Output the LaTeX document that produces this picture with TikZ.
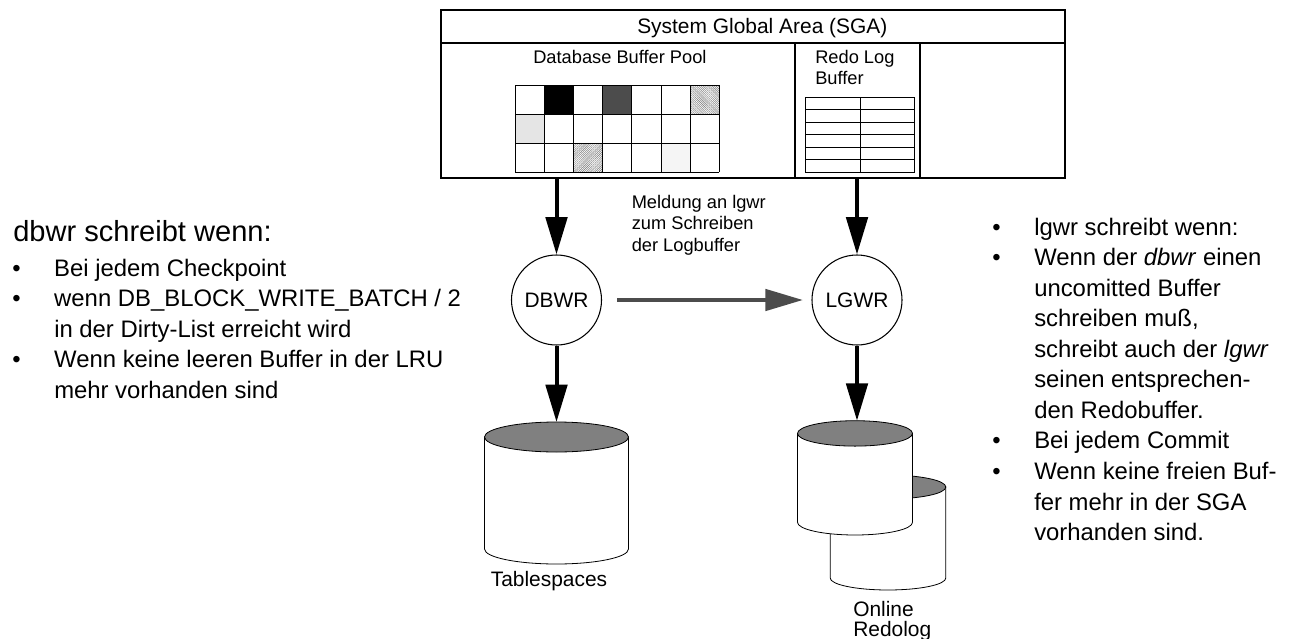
\documentclass[tikz,border=0pt]{standalone}
\usepackage{fontspec}
\setmainfont{Liberation Sans}
\usetikzlibrary{arrows.meta,positioning,patterns.meta}
\newcommand{\labeltext}{\fontsize{13.7pt}{16pt}\selectfont}
\newcommand{\captiontext}{\fontsize{15.7pt}{15.5pt}\selectfont}
\newcommand{\listtext}{\fontsize{17.9pt}{22.9pt}\selectfont}
% name, centre x, top y, bottom y, x radius, y radius
\newcommand{\drawdisk}[6]{
	\coordinate (#1) at (#2,#3);
	\draw[diskline,fill=white] (#2-#5,#3+#6) -- (#2-#5,#4-#6)
		arc[start angle=180,end angle=0,x radius=#5,y radius=#6] -- (#2+#5,#3+#6) -- cycle;
	\draw[diskline,fill=black!50] (#2,#3+#6) ellipse[x radius=#5,y radius=#6];
}
\tikzset{
	boxline/.style={line width=1.5pt},
	gridline/.style={line width=0.75pt},
	diskline/.style={line width=0.6pt},
	label/.style={inner sep=0pt,align=left,anchor=base west,font=\labeltext},
	caption/.style={inner sep=0pt,align=left,anchor=base west,font=\captiontext},
	process/.style={circle,draw,line width=0.8pt,minimum size=67.5pt,inner sep=0pt,font=\captiontext},
	flow/.style={line width=3pt,-{Triangle[length=28pt,width=16pt]}},
	notify/.style={line width=2.6pt,draw=black!70,shorten >=6.5pt,-{Triangle[length=28pt,width=16pt,fill=black!70]}},
	listing/.style={inner sep=0pt,anchor=north west,font=\listtext},
	hatched/.style={pattern={Lines[angle=-45,distance=1pt,line width=0.3pt]},pattern color=black!55}
}
\begin{document}
\begin{tikzpicture}[x=0.75pt,y=-0.75pt]
	\useasboundingbox (0,0) rectangle (1293,639);
	% SGA box
	\draw[boxline] (441,10) rectangle (1065,178);
	\draw[boxline] (441,43) -- (1065,43);
	\draw[boxline] (795,43) -- (795,178);
	\draw[boxline] (920,43) -- (920,178);
	\coordinate (sgaleft) at (556.5,178);
	\coordinate (sgaright) at (857,178);
	\node[caption] (sgatitle) at (637,33) {System Global Area (SGA)};
	\node[label] (pooltitle) at (533,63.5) {Database Buffer Pool};
	\node[label] (redotitle) at (815,84.5) {Redo Log\\Buffer};
	% buffer pool
	\fill[black] (544.2,85.3) rectangle +(29.2,29);
	\fill[black!70] (602.6,85.3) rectangle +(29.2,29);
	\fill[hatched] (690.2,85.3) rectangle +(29.2,29);
	\fill[black!10] (515,114.3) rectangle +(29.2,29);
	\fill[hatched,pattern={Lines[angle=45,distance=1pt,line width=0.3pt]}] (573.4,143.3) rectangle +(29.2,29);
	\fill[black!4] (661,143.3) rectangle +(29.2,29);
	\foreach \col in {0,...,7}
		\draw[gridline] (515+\col*29.2,85.3) -- (515+\col*29.2,172.3);
	\foreach \row in {0,...,3}
		\draw[gridline] (515,85.3+\row*29) -- (719.4,85.3+\row*29);
	% redo log buffer
	\draw[gridline] (805,97.3) rectangle (914.5,172.3);
	\draw[gridline] (860,97.3) -- (860,172.3);
	\foreach \row in {1,...,5}
		\draw[gridline] (805,97.3+\row*12.5) -- (914.5,97.3+\row*12.5);
	% processes
	\node[process] (dbwr) at (556.5,300) {DBWR};
	\node[process] (lgwr) at (857,300) {LGWR};
	\coordinate (notifystart) at (617,300);
	\draw[flow] (sgaleft) -- (dbwr);
	\draw[flow] (sgaright) -- (lgwr);
	\draw[notify] (notifystart) -- (lgwr);
	\node[label] (notifytext) at (631.5,251) {Meldung an lgwr\\zum Schreiben\\der Logbuffer};
	% disks
	\drawdisk{tablespaces}{556.5}{422}{564}{72}{15}
	\drawdisk{backlog}{888}{475}{590}{57.8}{12}
	\drawdisk{frontlog}{855}{420.7}{535}{57.5}{12.7}
	\draw[flow] (dbwr) -- (tablespaces);
	\draw[flow] (lgwr) -- (lgwr |- frontlog);
	\node[caption] (tabletext) at (490.5,586.5) {Tablespaces};
	\node[caption] (logtext) at (853,636.7) {Online\\Redolog};
	% side texts
	\node[inner sep=0pt,anchor=base west,font=\fontsize{21.8pt}{26pt}\selectfont] (dbwrhead) at (13,241.5) {dbwr schreibt wenn:};
	\node[listing] (dbwrlist) at (12,254.6) {%
		\begin{tabular}{@{}p{31.5pt}@{}l@{}}
			\textbullet & Bei jedem Checkpoint\\
			\textbullet & wenn DB\_BLOCK\_WRITE\_BATCH / 2\\
			& in der Dirty-List erreicht wird\\
			\textbullet & Wenn keine leeren Buffer in der LRU\\
			& mehr vorhanden sind
		\end{tabular}};
	\node[listing] (lgwrlist) at (992,213.6) {%
		\begin{tabular}{@{}p{31.5pt}@{}l@{}}
			\textbullet & lgwr schreibt wenn:\\
			\textbullet & Wenn der \textit{dbwr} einen\\
			& uncomitted Buffer\\
			& schreiben muß,\\
			& schreibt auch der \textit{lgwr}\\
			& seinen entsprechen-\\
			& den Redobuffer.\\
			\textbullet & Bei jedem Commit\\
			\textbullet & Wenn keine freien Buf-\\
			& fer mehr in der SGA\\
			& vorhanden sind.
		\end{tabular}};
\end{tikzpicture}
\end{document}
